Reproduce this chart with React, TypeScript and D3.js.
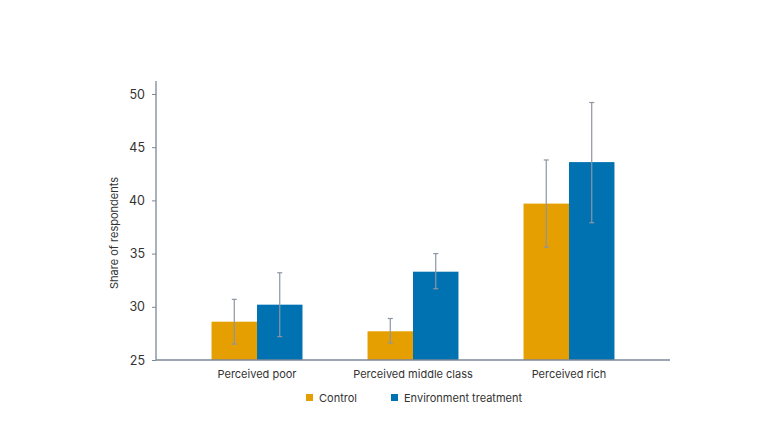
import React, { useEffect, useRef } from 'react';
import * as d3 from 'd3';

const categories = ['Perceived poor', 'Perceived middle class', 'Perceived rich'];
const seriesNames = ['Control', 'Environment treatment'];
const seriesColors = ['#E69F00', '#0072B2'];
const controlValues = [28.6, 27.7, 39.7];
const controlLow = [26.5, 26.6, 35.6];
const controlHigh = [30.7, 28.9, 43.8];
const treatmentValues = [30.2, 33.3, 43.6];
const treatmentLow = [27.2, 31.7, 37.9];
const treatmentHigh = [33.2, 35.0, 49.2];
const yTicks = [25, 30, 35, 40, 45, 50];

const App = () => {
  const ref = useRef(null);

  useEffect(() => {
    const svg = d3.select(ref.current);
    svg.selectAll('*').remove();

    const font = 'Inter, "Noto Sans", sans-serif';
    const axisColor = '#7b8799';
    const errColor = '#8c95a3';

    const x0 = d3.scaleBand().domain(categories).range([156, 670]).paddingInner(0.417).paddingOuter(0.356);
    const x1 = d3.scaleBand().domain(seriesNames).range([0, x0.bandwidth()]);
    const y = d3.scaleLinear().domain([25, 50]).range([360, 94]);

    const series = [
      { name: seriesNames[0], values: controlValues, low: controlLow, high: controlHigh },
      { name: seriesNames[1], values: treatmentValues, low: treatmentLow, high: treatmentHigh },
    ];

    // bars
    series.forEach((s, si) => {
      const g = svg.append('g');
      categories.forEach((c, i) => {
        g.append('rect')
          .attr('x', x0(c) + x1(s.name))
          .attr('y', y(s.values[i]))
          .attr('width', x1.bandwidth())
          .attr('height', y(25) - y(s.values[i]))
          .attr('fill', seriesColors[si]);
      });
    });

    // error bars
    series.forEach((s) => {
      categories.forEach((c, i) => {
        const cx = x0(c) + x1(s.name) + x1.bandwidth() / 2;
        const g = svg.append('g').attr('stroke', errColor).attr('stroke-width', 1.2);
        g.append('line').attr('x1', cx).attr('x2', cx).attr('y1', y(s.low[i])).attr('y2', y(s.high[i]));
        g.append('line').attr('x1', cx - 2.5).attr('x2', cx + 2.5).attr('y1', y(s.high[i])).attr('y2', y(s.high[i]));
        g.append('line').attr('x1', cx - 2.5).attr('x2', cx + 2.5).attr('y1', y(s.low[i])).attr('y2', y(s.low[i]));
      });
    });

    // y axis
    const yAxis = svg.append('g')
      .attr('transform', 'translate(156,0)')
      .call(d3.axisLeft(y).tickValues(yTicks).tickSize(4).tickPadding(7));
    yAxis.select('.domain').remove();
    yAxis.selectAll('line').attr('stroke', axisColor);
    yAxis.selectAll('text').attr('fill', '#333').style('font-family', font).style('font-size', '12.5px');
    svg.append('line')
      .attr('x1', 156).attr('x2', 156).attr('y1', 81).attr('y2', 360)
      .attr('stroke', axisColor).attr('stroke-width', 1.3);

    // x axis
    svg.append('line')
      .attr('x1', 156).attr('x2', 670).attr('y1', 360).attr('y2', 360)
      .attr('stroke', axisColor).attr('stroke-width', 1.3);
    categories.forEach((c) => {
      svg.append('text')
        .attr('x', x0(c) + x0.bandwidth() / 2)
        .attr('y', 378)
        .attr('text-anchor', 'middle')
        .style('font-family', font)
        .style('font-size', '11px')
        .attr('fill', '#333')
        .text(c);
    });

    // y label
    svg.append('text')
      .attr('transform', 'translate(118,233) rotate(-90)')
      .attr('text-anchor', 'middle')
      .style('font-family', font)
      .style('font-size', '11px')
      .attr('fill', '#333')
      .text('Share of respondents');

    // legend
    const legendX = [306, 391];
    seriesNames.forEach((n, i) => {
      svg.append('rect')
        .attr('x', legendX[i]).attr('y', 394).attr('width', 7).attr('height', 7)
        .attr('fill', seriesColors[i]);
      svg.append('text')
        .attr('x', legendX[i] + 13).attr('y', 401.5)
        .style('font-family', font)
        .style('font-size', '11px')
        .attr('fill', '#333')
        .text(n);
    });
  }, []);

  return (
    <svg ref={ref} width={780} height={439} style={{ position: 'absolute', left: 0, top: 0, background: '#fff' }}></svg>
  );
};

export default App;
